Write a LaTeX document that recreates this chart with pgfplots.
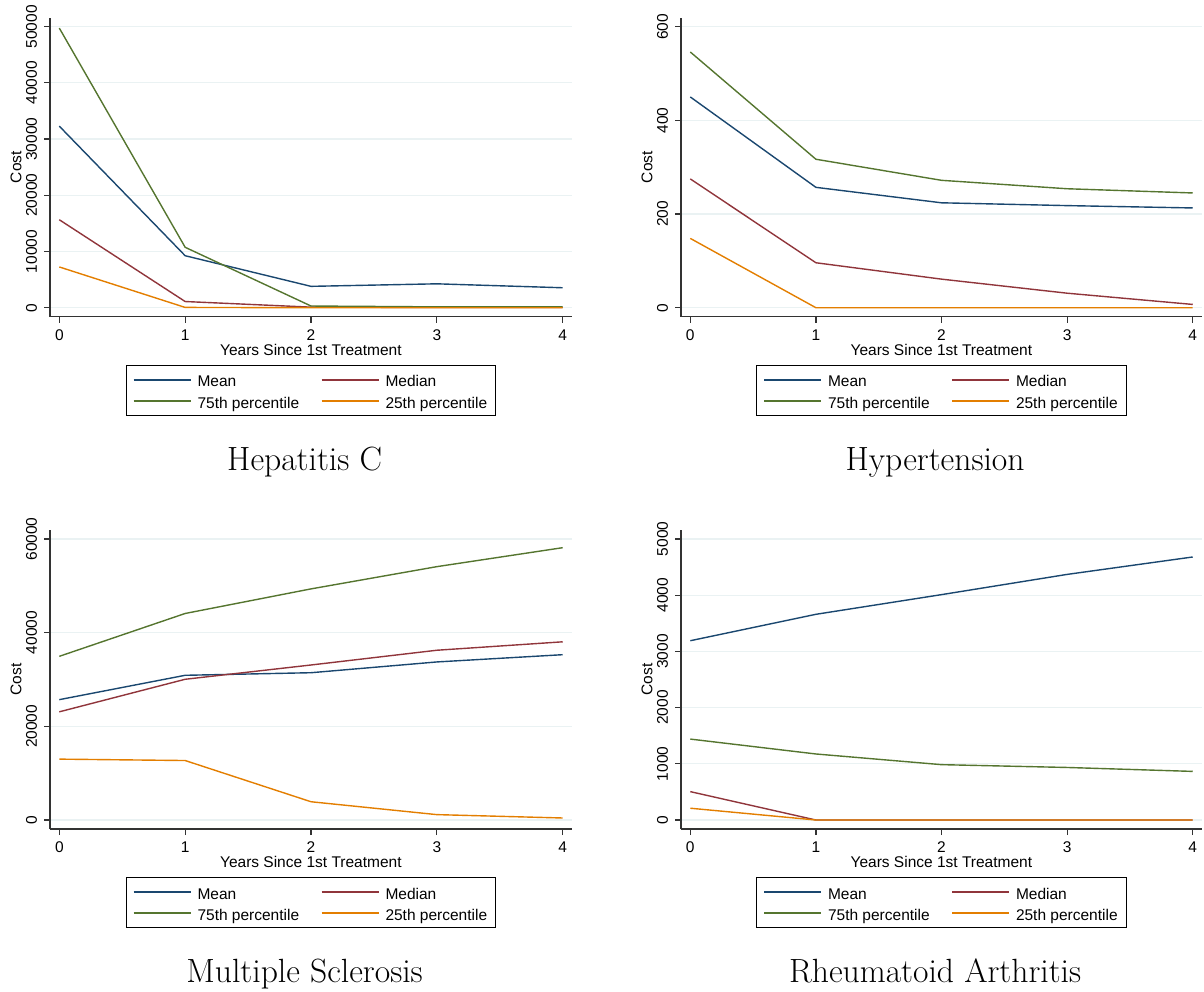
\documentclass[border=0pt]{standalone}
\usepackage{fontspec}
\usepackage{pgfplots}
\pgfplotsset{compat=1.18}
\newfontfamily\arial{Liberation Sans}
\definecolor{cmean}{HTML}{1A476F}
\definecolor{cmed}{HTML}{90353B}
\definecolor{cgreen}{HTML}{55752F}
\definecolor{corange}{HTML}{E37E00}
\definecolor{cgrid}{HTML}{EAF2F3}
\definecolor{caxis}{HTML}{333333}
\newcommand{\sfont}{\arial\fontsize{7.75}{9}\selectfont}
\pgfplotsset{
 panel/.style={
  scale only axis, height=149.5pt,
  xmin=-0.074, xmax=4.0715,
  axis x line*=bottom, axis y line*=left,
  axis line style={caxis, line width=0.6pt},
  tick style={caxis, line width=0.6pt},
  tick align=outside, major tick length=3pt,
  xtick={0,1,2,3,4},
  ymajorgrids, grid style={cgrid, line width=0.6pt},
  ticklabel style={font=\sfont},
  label style={font=\sfont},
  /pgf/number format/assume math mode=true,
  /pgf/number format/1000 sep={},
  scaled y ticks=false,
  yticklabel style={rotate=90, anchor=south},
  xlabel={Years Since 1st Treatment},
  ylabel={Cost},
  xlabel style={at={(axis description cs:0.5,-0.1114)}, anchor=center},
  ylabel style={at={(axis description cs:-0.0652,0.5)}, anchor=center},
  legend columns=2,
  legend cell align=left,
  legend style={at={(0.5,0)}, anchor=north, yshift=-24.15pt, draw=black,
    inner xsep=3.15pt, inner ysep=2.3pt, font=\sfont, row sep=1pt, column sep=2pt,
    nodes={inner sep=1pt, text height=7.35pt, text depth=0.35pt},
    /tikz/every even column/.append style={column sep=9.65pt}},
  legend image code/.code={\draw[#1, line width=1pt] (0pt,0pt) -- (28.5pt,0pt);},
  clip=false,
  every axis plot/.append style={line width=0.7pt, mark=none},
 }
}
\newcommand{\ptitle}[1]{\node[font=\rmfamily\fontsize{16.8}{20}\selectfont, anchor=base] at (rel axis cs:0.488,-0.5127) {#1};}
\begin{document}
\begin{tikzpicture}
% Hepatitis C
\begin{axis}[panel, at={(0pt,0pt)}, anchor=south west, width=260.85pt,
  ymin=-1601, ymax=51601, ytick={0,10000,20000,30000,40000,50000}]
\addplot[color=cmean] coordinates {(0,32300) (1,9250) (2,3800) (3,4250) (4,3550)};
\addlegendentry{Mean}
\addplot[color=cmed] coordinates {(0,15650) (1,1100) (2,100) (3,50) (4,50)};
\addlegendentry{Median}
\addplot[color=cgreen] coordinates {(0,49750) (1,10750) (2,300) (3,150) (4,150)};
\addlegendentry{75th percentile}
\addplot[color=corange] coordinates {(0,7250) (1,50) (2,0) (3,0) (4,0)};
\addlegendentry{25th percentile}
\ptitle{Hepatitis C}
\end{axis}
% Hypertension
\begin{axis}[panel, at={(315.5pt,0pt)}, anchor=south west, width=260.35pt,
  ymin=-19.2, ymax=619.2, ytick={0,200,400,600}]
\addplot[color=cmean] coordinates {(0,450) (1,257) (2,224) (3,218) (4,213)};
\addlegendentry{Mean}
\addplot[color=cmed] coordinates {(0,275) (1,96) (2,61) (3,31) (4,7)};
\addlegendentry{Median}
\addplot[color=cgreen] coordinates {(0,546) (1,317) (2,272) (3,254) (4,245)};
\addlegendentry{75th percentile}
\addplot[color=corange] coordinates {(0,148) (1,0) (2,0) (3,0) (4,0)};
\addlegendentry{25th percentile}
\ptitle{Hypertension}
\end{axis}
% Multiple Sclerosis
\begin{axis}[panel, at={(0pt,-256.15pt)}, anchor=south west, width=260.85pt,
  ymin=-1922, ymax=61922, ytick={0,20000,40000,60000}]
\addplot[color=cmean] coordinates {(0,25700) (1,30900) (2,31450) (3,33750) (4,35300)};
\addlegendentry{Mean}
\addplot[color=cmed] coordinates {(0,23100) (1,30050) (2,33100) (3,36250) (4,38050)};
\addlegendentry{Median}
\addplot[color=cgreen] coordinates {(0,34950) (1,44100) (2,49350) (3,54100) (4,58150)};
\addlegendentry{75th percentile}
\addplot[color=corange] coordinates {(0,13000) (1,12700) (2,3900) (3,1150) (4,430)};
\addlegendentry{25th percentile}
\ptitle{Multiple Sclerosis}
\end{axis}
% Rheumatoid Arthritis
\begin{axis}[panel, at={(315.5pt,-256.15pt)}, anchor=south west, width=260.35pt,
  ymin=-160, ymax=5160, ytick={0,1000,2000,3000,4000,5000}]
\addplot[color=cmean] coordinates {(0,3190) (1,3660) (2,4010) (3,4370) (4,4680)};
\addlegendentry{Mean}
\addplot[color=cmed] coordinates {(0,505) (1,0) (2,0) (3,0) (4,0)};
\addlegendentry{Median}
\addplot[color=cgreen] coordinates {(0,1440) (1,1175) (2,985) (3,935) (4,865)};
\addlegendentry{75th percentile}
\addplot[color=corange] coordinates {(0,210) (1,0) (2,0) (3,0) (4,0)};
\addlegendentry{25th percentile}
\ptitle{Rheumatoid Arthritis}
\end{axis}
\pgfresetboundingbox
\useasboundingbox (-25pt,158.35pt) rectangle (577pt,-337.15pt);
\end{tikzpicture}
\end{document}
